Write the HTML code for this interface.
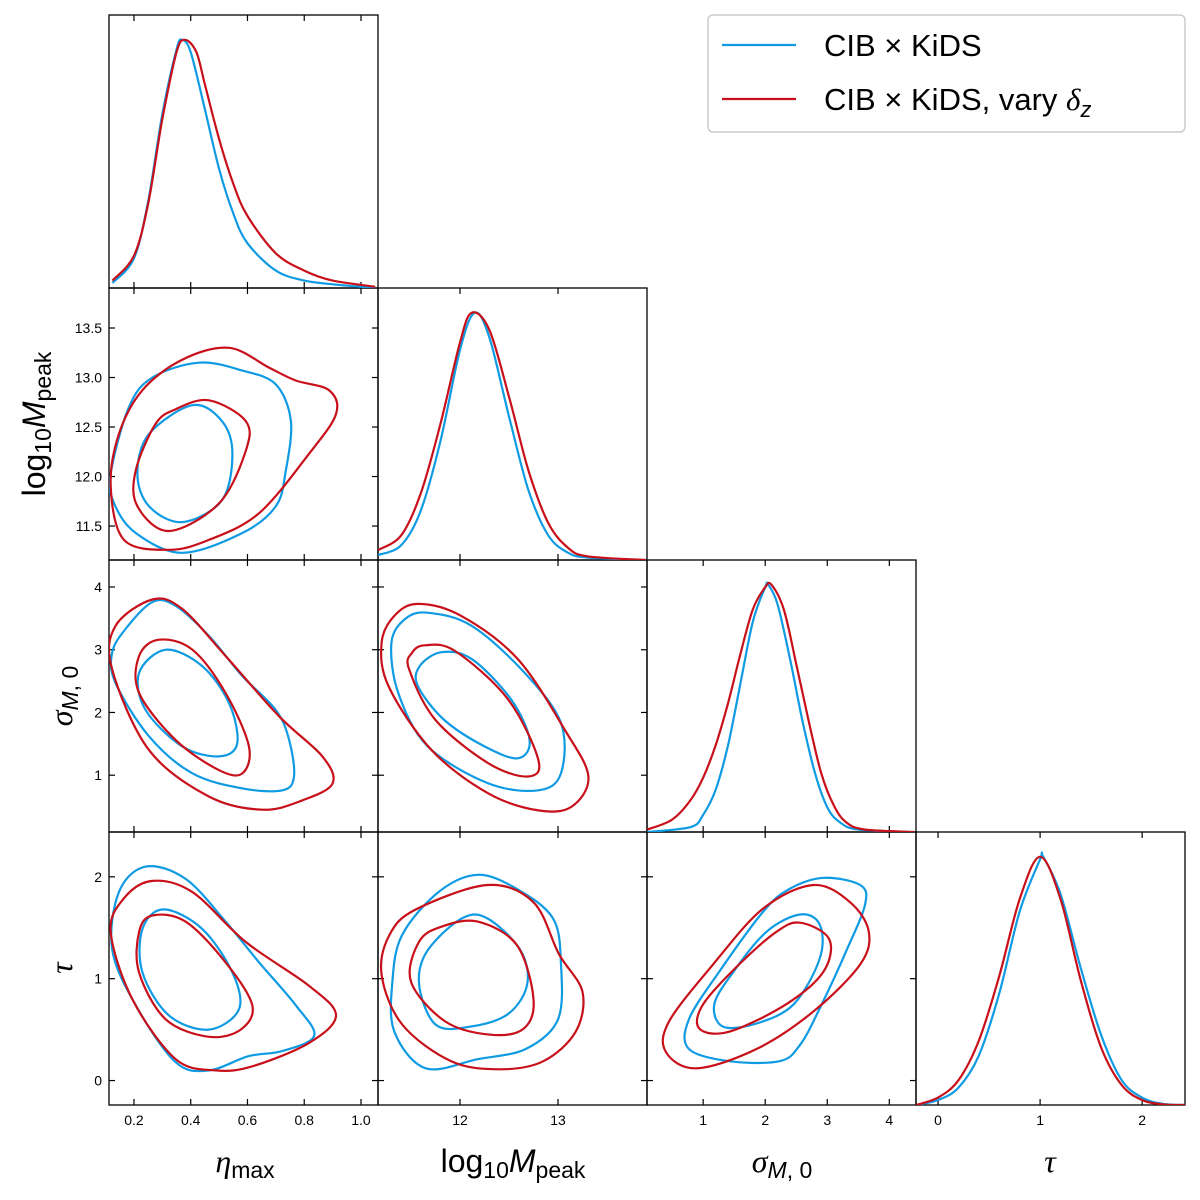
<!DOCTYPE html>
<html><head><meta charset="utf-8"><style>
html,body{margin:0;padding:0;background:#fff;}
svg{display:block;font-family:"Liberation Sans","DejaVu Sans",sans-serif;}
</style></head><body>
<svg id="c" width="1200" height="1200" viewBox="0 0 1200 1200"></svg>
<script>
// ---- data ----
const paramNames = ['eta','logM','sigma','tau'];
const ranges = {eta:[0.112,1.06], logM:[11.163,13.908], sigma:[0.095,4.43], tau:[-0.216,2.42]};
const rowRanges = {logM:[11.157,13.904], sigma:[0.095,4.43], tau:[-0.24,2.44]};
const etaTicks = [0.2,0.4,0.6,0.8,1.0];
const logMTicksX = [12,13];
const logMTicksY = [11.5,12.0,12.5,13.0,13.5];
const sigmaTicks = [1,2,3,4];
const tauTicks = [0,1,2];

const etaGrid = [0.124,0.2,0.25,0.3,0.35,0.37,0.4,0.45,0.5,0.55,0.6,0.7,0.8,0.9,1.05];
const etaBlue = [0.02,0.12,0.35,0.7,0.96,1.0,0.95,0.72,0.48,0.3,0.18,0.07,0.03,0.015,0.0];
const etaGridR = [0.124,0.2,0.25,0.3,0.35,0.38,0.42,0.45,0.5,0.55,0.6,0.7,0.8,0.9,1.05];
const etaRed = [0.03,0.13,0.34,0.68,0.95,1.0,0.95,0.82,0.6,0.42,0.29,0.14,0.07,0.03,0.005];
const logMGrid = [11.163,11.4,11.6,11.8,12.0,12.15,12.3,12.5,12.7,12.9,13.1,13.3,13.9];
const logMBlue = [0.02,0.06,0.2,0.48,0.85,1.0,0.9,0.58,0.28,0.1,0.03,0.01,0];
const logMGridR = [11.163,11.4,11.6,11.8,12.0,12.12,12.3,12.5,12.7,12.9,13.1,13.3,13.9];
const logMRed = [0.04,0.1,0.27,0.55,0.88,1.0,0.93,0.66,0.36,0.15,0.05,0.015,0];
const sigGrid = [0.1,0.8,1.0,1.2,1.4,1.6,1.8,2.0,2.05,2.2,2.4,2.6,2.8,3.0,3.2,3.5,4.4];
const sigBlue = [0,0.02,0.07,0.17,0.35,0.6,0.85,0.99,1.0,0.92,0.7,0.45,0.24,0.1,0.04,0.01,0];
const sigGridR = [0.1,0.5,0.8,1.0,1.2,1.4,1.6,1.8,2.0,2.1,2.3,2.5,2.7,2.9,3.1,3.3,3.6,4.4];
const sigRed = [0.01,0.05,0.13,0.22,0.35,0.52,0.72,0.9,0.99,1.0,0.9,0.68,0.45,0.24,0.11,0.04,0.01,0];
const tauGrid = [-0.216,0,0.2,0.4,0.6,0.8,1.0,1.03,1.2,1.4,1.6,1.8,2.0,2.2,2.42];
const tauBlue = [0,0.02,0.07,0.2,0.45,0.78,0.99,1.0,0.85,0.55,0.28,0.1,0.03,0.005,0];
const tauGridR = [-0.216,0,0.2,0.4,0.6,0.8,1.0,1.2,1.4,1.6,1.8,2.0,2.2,2.42];
const tauRed = [0,0.03,0.1,0.26,0.52,0.83,1.0,0.83,0.5,0.23,0.08,0.02,0.003,0];

// contours [x,y] in data units
const c_eta_logM_b1=[[0.118,12.03],[0.182,12.7],[0.265,13.0],[0.429,13.15],[0.582,13.07],[0.70,12.93],[0.753,12.56],[0.735,12.06],[0.70,11.7],[0.582,11.43],[0.37,11.23],[0.206,11.43],[0.13,11.73]];
const c_eta_logM_b2=[[0.406,12.72],[0.51,12.56],[0.547,12.23],[0.51,11.76],[0.37,11.54],[0.253,11.7],[0.212,12.03],[0.253,12.43]];
const c_eta_logM_r1=[[0.535,13.3],[0.676,13.1],[0.77,12.97],[0.888,12.87],[0.912,12.63],[0.817,12.23],[0.641,11.63],[0.464,11.36],[0.323,11.26],[0.165,11.36],[0.118,11.9],[0.147,12.43],[0.229,12.87],[0.37,13.18]];
const c_eta_logM_r2=[[0.464,12.77],[0.594,12.56],[0.594,12.26],[0.5,11.73],[0.323,11.45],[0.212,11.7],[0.206,12.06],[0.276,12.53],[0.347,12.68]];
const c_eta_sig_b1=[[0.265,3.76],[0.347,3.7],[0.464,3.22],[0.582,2.58],[0.70,2.04],[0.747,1.56],[0.764,0.98],[0.723,0.76],[0.582,0.79],[0.406,1.03],[0.253,1.62],[0.135,2.47],[0.123,2.95],[0.17,3.33]];
const c_eta_sig_b2=[[0.312,3.0],[0.44,2.74],[0.535,2.15],[0.564,1.51],[0.5,1.3],[0.37,1.46],[0.241,2.04],[0.218,2.63]];
const c_eta_sig_r1=[[0.265,3.8],[0.37,3.65],[0.523,2.9],[0.711,1.94],[0.864,1.3],[0.9,0.87],[0.794,0.6],[0.653,0.45],[0.464,0.66],[0.253,1.4],[0.123,2.69],[0.135,3.38]];
const c_eta_sig_r2=[[0.288,3.16],[0.406,3.0],[0.523,2.31],[0.605,1.46],[0.582,1.03],[0.5,1.08],[0.347,1.56],[0.218,2.31],[0.218,2.9]];
const c_eta_tau_b1=[[0.241,2.1],[0.382,1.98],[0.523,1.56],[0.641,1.16],[0.77,0.74],[0.835,0.44],[0.723,0.29],[0.605,0.24],[0.464,0.1],[0.347,0.18],[0.206,0.74],[0.123,1.29],[0.147,1.85]];
const c_eta_tau_b2=[[0.305,1.68],[0.44,1.49],[0.547,1.06],[0.57,0.7],[0.464,0.5],[0.323,0.64],[0.23,1.06],[0.23,1.49]];
const c_eta_tau_r1=[[0.265,1.96],[0.406,1.85],[0.594,1.36],[0.817,0.93],[0.912,0.64],[0.817,0.37],[0.617,0.14],[0.488,0.1],[0.347,0.21],[0.194,0.8],[0.118,1.46],[0.165,1.79]];
const c_eta_tau_r2=[[0.265,1.62],[0.382,1.56],[0.523,1.16],[0.617,0.74],[0.576,0.5],[0.464,0.43],[0.312,0.6],[0.218,1.06],[0.218,1.46]];
const c_logM_sig_b1=[[11.67,3.59],[12.12,3.38],[12.66,2.63],[13.03,1.83],[13.03,1.03],[12.8,0.76],[12.29,0.87],[11.67,1.46],[11.37,2.31],[11.3,3.11],[11.44,3.49]];
const c_logM_sig_b2=[[11.81,2.96],[12.12,2.85],[12.52,2.21],[12.71,1.56],[12.59,1.27],[12.25,1.46],[11.84,1.88],[11.57,2.42],[11.59,2.74]];
const c_logM_sig_r1=[[11.57,3.73],[12.01,3.54],[12.59,2.85],[13.07,1.72],[13.31,0.98],[13.14,0.5],[12.8,0.44],[12.29,0.71],[11.71,1.4],[11.27,2.42],[11.2,3.11],[11.33,3.54]];
const c_logM_sig_r2=[[11.64,3.07],[11.95,2.98],[12.49,2.21],[12.8,1.24],[12.69,0.98],[12.29,1.19],[11.75,1.88],[11.48,2.69],[11.51,2.95]];
const c_logM_tau_b1=[[12.18,2.02],[12.58,1.88],[12.95,1.59],[13.03,1.14],[13.0,0.6],[12.67,0.31],[12.18,0.21],[11.65,0.12],[11.33,0.48],[11.31,0.97],[11.41,1.43],[11.78,1.85]];
const c_logM_tau_b2=[[12.15,1.63],[12.58,1.33],[12.69,0.97],[12.5,0.66],[12.11,0.53],[11.75,0.55],[11.58,0.97],[11.71,1.33]];
const c_logM_tau_r1=[[12.28,1.92],[12.75,1.75],[13.01,1.24],[13.25,0.87],[13.18,0.48],[12.85,0.19],[12.41,0.11],[11.91,0.19],[11.41,0.55],[11.2,1.04],[11.28,1.43],[11.55,1.68]];
const c_logM_tau_r2=[[12.18,1.56],[12.58,1.33],[12.75,0.8],[12.65,0.51],[12.31,0.45],[11.85,0.58],[11.5,0.97],[11.58,1.36],[11.81,1.51]];
const c_sig_tau_b1=[[2.94,1.99],[3.53,1.92],[3.61,1.73],[3.32,1.29],[2.88,0.71],[2.56,0.35],[2.23,0.19],[1.42,0.19],[0.77,0.31],[0.77,0.6],[1.26,1.07],[1.97,1.66],[2.39,1.88]];
const c_sig_tau_b2=[[2.56,1.63],[2.88,1.53],[2.88,1.2],[2.46,0.75],[1.86,0.56],[1.32,0.53],[1.18,0.75],[1.49,1.07],[2.02,1.46]];
const c_sig_tau_r1=[[2.78,1.92],[3.37,1.75],[3.67,1.46],[3.53,1.14],[2.78,0.68],[1.86,0.31],[0.89,0.12],[0.4,0.28],[0.45,0.58],[1.16,1.14],[1.97,1.69]];
const c_sig_tau_r2=[[2.56,1.55],[3.03,1.39],[2.94,1.07],[2.34,0.75],[1.42,0.48],[0.94,0.51],[1.0,0.75],[1.58,1.14],[2.18,1.46]];

// ---- layout ----
const BLUE='#0f9be3', RED='#c8101a';
const xe=[109,378,647,916,1185], ye=[15,288,560,832,1105];
const NS='http://www.w3.org/2000/svg';
const svg=document.getElementById('c');
function mk(tag,attrs,parent){const e=document.createElementNS(NS,tag);for(const k in attrs)e.setAttribute(k,attrs[k]);(parent||svg).appendChild(e);return e;}
function xs(col,v){const r=ranges[paramNames[col]];return xe[col]+(v-r[0])/(r[1]-r[0])*(xe[col+1]-xe[col]);}
function ys(row,v){const r=rowRanges[paramNames[row]];return ye[row+1]-(v-r[0])/(r[1]-r[0])*(ye[row+1]-ye[row]);}
function yd(row,v){return ye[row+1]-v/1.1*(ye[row+1]-ye[row]);}
function smoothClosed(p){let d='M'+p[0][0].toFixed(1)+','+p[0][1].toFixed(1);const n=p.length;
 for(let i=0;i<n;i++){const p0=p[(i-1+n)%n],p1=p[i],p2=p[(i+1)%n],p3=p[(i+2)%n];
  d+=' C'+(p1[0]+(p2[0]-p0[0])/6).toFixed(1)+','+(p1[1]+(p2[1]-p0[1])/6).toFixed(1)+' '+(p2[0]-(p3[0]-p1[0])/6).toFixed(1)+','+(p2[1]-(p3[1]-p1[1])/6).toFixed(1)+' '+p2[0].toFixed(1)+','+p2[1].toFixed(1);}
 return d+'Z';}
function smoothOpen(p){let d='M'+p[0][0].toFixed(1)+','+p[0][1].toFixed(1);const n=p.length;
 for(let i=0;i<n-1;i++){const p0=p[Math.max(i-1,0)],p1=p[i],p2=p[i+1],p3=p[Math.min(i+2,n-1)];
  d+=' C'+(p1[0]+(p2[0]-p0[0])/6).toFixed(1)+','+(p1[1]+(p2[1]-p0[1])/6).toFixed(1)+' '+(p2[0]-(p3[0]-p1[0])/6).toFixed(1)+','+(p2[1]-(p3[1]-p1[1])/6).toFixed(1)+' '+p2[0].toFixed(1)+','+p2[1].toFixed(1);}
 return d;}

const defs=mk('defs',{});
let clipId=0;
function panelClip(r,c){const id='cl'+(clipId++);const cp=mk('clipPath',{id:id},defs);mk('rect',{x:xe[c],y:ye[r],width:xe[c+1]-xe[c],height:ye[r+1]-ye[r]},cp);return id;}

function drawContour(r,c,pts,color,name){
 const id=panelClip(r,c);
 const px=pts.map(p=>[xs(c,p[0]),ys(r,p[1])]);
 const e=mk('path',{d:smoothClosed(px),fill:'none',stroke:color,'stroke-width':2.2,'clip-path':'url(#'+id+')'});
 
 
}
function draw1D(i,gx,gy,color,name){
 const id=panelClip(i,i);
 const px=gx.map((x,k)=>[xs(i,x),yd(i,gy[k])]);
 const e=mk('path',{d:smoothOpen(px),fill:'none',stroke:color,'stroke-width':2.2,'clip-path':'url(#'+id+')'});
 
 
}
const xTicks=[etaTicks,logMTicksX,sigmaTicks,tauTicks];
const yTicks=[null,logMTicksY,sigmaTicks,tauTicks];
function fmt(col,v){return col===0?v.toFixed(1):String(v);}

for(let r=0;r<4;r++){for(let c=0;c<=r;c++){
 const g=mk('g',{});
 
 
 mk('rect',{x:xe[c],y:ye[r],width:xe[c+1]-xe[c],height:ye[r+1]-ye[r],fill:'none',stroke:'#000','stroke-width':1.3},g);
 for(const t of xTicks[c]){const x=xs(c,t);
  mk('line',{x1:x,x2:x,y1:ye[r+1],y2:ye[r+1]-6,stroke:'#000','stroke-width':1.2},g);
  mk('line',{x1:x,x2:x,y1:ye[r],y2:ye[r]+6,stroke:'#000','stroke-width':1.2},g);
  if(r===3){const t1=mk('text',{x:x,y:ye[4]+20,'font-size':14,'text-anchor':'middle'},g);t1.textContent=fmt(c,t);
   }
 }
 if(r!==c){for(const t of yTicks[r]){const y=ys(r,t);
  mk('line',{x1:xe[c],x2:xe[c]+6,y1:y,y2:y,stroke:'#000','stroke-width':1.2},g);
  mk('line',{x1:xe[c+1],x2:xe[c+1]-6,y1:y,y2:y,stroke:'#000','stroke-width':1.2},g);
  if(c===0){const t2=mk('text',{x:xe[0]-7,y:y+5,'font-size':14,'text-anchor':'end'},g);t2.textContent=(r===1?t.toFixed(1):String(t));
   }
 }}
}}
draw1D(0,etaGrid,etaBlue,BLUE,'eta-pdf-blue');draw1D(0,etaGridR,etaRed,RED,'eta-pdf-red');
draw1D(1,logMGrid,logMBlue,BLUE,'logM-pdf-blue');draw1D(1,logMGridR,logMRed,RED,'logM-pdf-red');
draw1D(2,sigGrid,sigBlue,BLUE,'sigma-pdf-blue');draw1D(2,sigGridR,sigRed,RED,'sigma-pdf-red');
draw1D(3,tauGrid,tauBlue,BLUE,'tau-pdf-blue');draw1D(3,tauGridR,tauRed,RED,'tau-pdf-red');
const C=[[1,0,c_eta_logM_b1,c_eta_logM_b2,c_eta_logM_r1,c_eta_logM_r2],
 [2,0,c_eta_sig_b1,c_eta_sig_b2,c_eta_sig_r1,c_eta_sig_r2],
 [3,0,c_eta_tau_b1,c_eta_tau_b2,c_eta_tau_r1,c_eta_tau_r2],
 [2,1,c_logM_sig_b1,c_logM_sig_b2,c_logM_sig_r1,c_logM_sig_r2],
 [3,1,c_logM_tau_b1,c_logM_tau_b2,c_logM_tau_r1,c_logM_tau_r2],
 [3,2,c_sig_tau_b1,c_sig_tau_b2,c_sig_tau_r1,c_sig_tau_r2]];
for(const q of C){const nm=paramNames[q[1]]+'-'+paramNames[q[0]];
 drawContour(q[0],q[1],q[2],BLUE,'contour-95-blue-'+nm);drawContour(q[0],q[1],q[3],BLUE,'contour-68-blue-'+nm);
 drawContour(q[0],q[1],q[4],RED,'contour-95-red-'+nm);drawContour(q[0],q[1],q[5],RED,'contour-68-red-'+nm);}
</script>
<script>
const s=document.getElementById('c');
s.insertAdjacentHTML('beforeend',`
<text x="245" y="1172" font-size="32" text-anchor="middle"><tspan font-family="Liberation Serif" font-style="italic">η</tspan><tspan font-size="23" dy="6">max</tspan></text>
<text x="513" y="1172" font-size="32" text-anchor="middle">log<tspan font-size="23" dy="6">10</tspan><tspan dy="-6" font-style="italic">M</tspan><tspan font-size="23" dy="6">peak</tspan></text>
<text x="782" y="1172" font-size="32" text-anchor="middle"><tspan font-family="Liberation Serif" font-style="italic">σ</tspan><tspan font-size="23" dy="6"><tspan font-style="italic">M</tspan>, 0</tspan></text>
<text x="1050" y="1172" font-size="32" text-anchor="middle" font-family="Liberation Serif" font-style="italic">τ</text>
<text transform="translate(45,424) rotate(-90)" font-size="32" text-anchor="middle">log<tspan font-size="23" dy="6">10</tspan><tspan dy="-6" font-style="italic">M</tspan><tspan font-size="23" dy="6">peak</tspan></text>
<text transform="translate(72,696) rotate(-90)" font-size="32" text-anchor="middle"><tspan font-family="Liberation Serif" font-style="italic">σ</tspan><tspan font-size="23" dy="6"><tspan font-style="italic">M</tspan>, 0</tspan></text>
<text transform="translate(72,968) rotate(-90)" font-size="32" text-anchor="middle" font-family="Liberation Serif" font-style="italic">τ</text>
<g>
<rect x="708" y="15" width="477" height="117" rx="5" fill="#fff" stroke="#ccc" stroke-width="1.5"/>
<line x1="722" y1="45" x2="796" y2="45" stroke="#0f9be3" stroke-width="2.2"/>
<text x="824" y="56" font-size="31">CIB × KiDS</text>
<line x1="722" y1="99" x2="796" y2="99" stroke="#c8101a" stroke-width="2.2"/>
<text x="824" y="110" font-size="31">CIB × KiDS, vary <tspan font-family="Liberation Serif" font-style="italic">δ</tspan><tspan font-size="22" dy="7" font-style="italic">z</tspan></text>
</g>`);
</script>
</body></html>
